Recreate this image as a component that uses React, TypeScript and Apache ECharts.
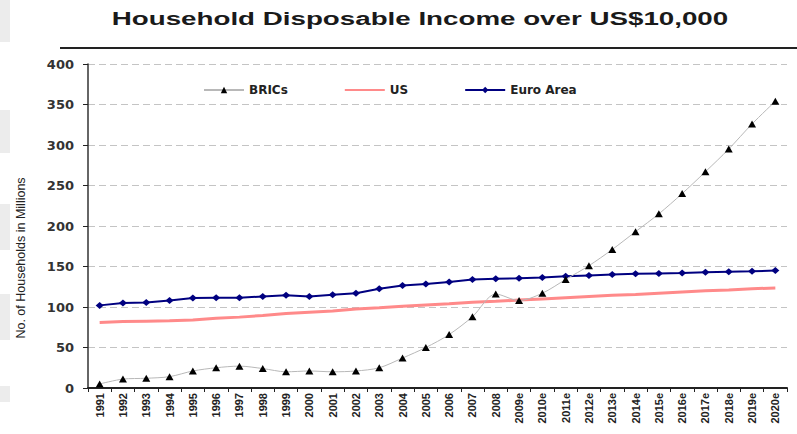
import React, { useEffect, useRef } from "react";
import * as echarts from "echarts";

const TITLE = "Household Disposable Income over US$10,000";
const Y_NAME = "No. of Households in Millions";

const categories = [
  "1991", "1992", "1993", "1994", "1995", "1996", "1997", "1998", "1999", "2000",
  "2001", "2002", "2003", "2004", "2005", "2006", "2007", "2008", "2009e", "2010e",
  "2011e", "2012e", "2013e", "2014e", "2015e", "2016e", "2017e", "2018e", "2019e", "2020e",
];

const bricsValues = [
  5, 11, 12, 14, 21, 25, 27, 24, 20, 21,
  20, 21, 25, 37, 50, 66, 88, 116, 108, 117,
  134, 151, 171, 193, 215, 240, 267, 295, 326, 354,
];

const usValues = [
  81, 82, 82.5, 83, 84, 86, 87.5, 89.5, 92, 93.5,
  95, 97.5, 99, 101, 102.5, 104, 106, 107, 108.5, 110,
  111.5, 113, 114.5, 115.5, 117, 118.5, 120, 121, 122.5, 123.5,
];

const euroValues = [
  102, 105, 105.5, 108, 111, 111.5, 111.5, 113, 114.5, 113,
  115, 117, 122.5, 126.5, 128.5, 131, 134, 135, 135.5, 136.5,
  138, 139, 140, 141, 141.5, 142, 143, 143.5, 144, 145,
];

const seriesNames = ["BRICs", "US", "Euro Area"];

const yMin = 0;
const yMax = 400;
const yInterval = 50;

const sideBands = [
  [0, 42],
  [110, 153],
  [204, 250],
  [294, 340],
  [386, 402],
];

export default function App() {
  const ref = useRef<HTMLDivElement>(null);

  useEffect(() => {
    if (!ref.current) return;
    const chart = echarts.init(ref.current, null, { renderer: "svg" });

    const graphics: any[] = sideBands.map(([y0, y1]) => ({
      type: "rect",
      shape: { x: 0, y: y0, width: 10, height: y1 - y0 },
      style: { fill: "#ececec" },
      silent: true,
    }));
    graphics.push({
      type: "text",
      x: 420,
      y: 18,
      scaleX: 1.46,
      style: {
        text: TITLE,
        font: 'bold 19px "Liberation Sans", Arial, sans-serif',
        fill: "#1a1a1a",
        textAlign: "center",
        textVerticalAlign: "middle",
        verticalAlign: "middle",
      },
    });
    graphics.push({
      type: "line",
      shape: { x1: 60, y1: 48, x2: 797, y2: 48 },
      style: { stroke: "#222", lineWidth: 2 },
    });
    graphics.push({
      type: "text",
      x: 21,
      y: 258,
      rotation: Math.PI / 2,
      style: {
        text: Y_NAME,
        font: '12.5px "Liberation Sans", Arial, sans-serif',
        fill: "#222",
        textAlign: "center",
        textVerticalAlign: "middle",
        verticalAlign: "middle",
      },
    });

    chart.setOption({
      animation: false,
      backgroundColor: "#ffffff",
      grid: { left: 88, right: 10, top: 64, bottom: 46 },
      legend: {
        data: [
          { name: seriesNames[0] },
          { name: seriesNames[1], itemStyle: { opacity: 0 } },
          { name: seriesNames[2] },
        ],
        left: 198,
        top: 79,
        itemWidth: 40,
        itemHeight: 8,
        itemGap: 56,
        textStyle: {
          fontFamily: '"DejaVu Sans", sans-serif',
          fontWeight: "bold",
          fontSize: 12,
          color: "#222",
        },
      },
      xAxis: {
        type: "category",
        data: categories,
        boundaryGap: true,
        axisLine: { show: true, lineStyle: { color: "#222", width: 2 } },
        axisTick: { show: true, interval: 0, length: 4, lineStyle: { color: "#222" } },
        axisLabel: {
          interval: 0,
          rotate: 90,
          margin: 5,
          fontFamily: '"Liberation Sans", Arial, sans-serif',
          fontWeight: "bold",
          fontSize: 11,
          color: "#222",
        },
        splitLine: { show: false },
      },
      yAxis: {
        type: "value",
        min: yMin,
        max: yMax,
        interval: yInterval,
        axisLine: { show: true, lineStyle: { color: "#333", width: 1.5 } },
        axisTick: { show: true, length: 5, lineStyle: { color: "#222" } },
        axisLabel: {
          margin: 14,
          fontFamily: '"DejaVu Sans", sans-serif',
          fontWeight: "bold",
          fontSize: 13,
          color: "#333",
        },
        splitLine: {
          show: true,
          lineStyle: { color: "#c4c4c4", type: [7, 4], width: 1 },
        },
      },
      series: [
        {
          name: seriesNames[0],
          type: "line",
          data: bricsValues,
          smooth: 0.3,
          symbol: "triangle",
          symbolSize: [8, 7],
          itemStyle: { color: "#000000" },
          lineStyle: { color: "#b8b8b8", width: 1 },
          z: 4,
        },
        {
          name: seriesNames[1],
          type: "line",
          data: usValues,
          showSymbol: false,
          symbol: "none",
          itemStyle: { color: "#ff8a8a" },
          lineStyle: { color: "#ff8a8a", width: 3 },
          z: 2,
        },
        {
          name: seriesNames[2],
          type: "line",
          data: euroValues,
          symbol: "diamond",
          symbolSize: [8, 7],
          itemStyle: { color: "#000080" },
          lineStyle: { color: "#000080", width: 2 },
          z: 3,
        },
      ],
      graphic: graphics,
    });

    return () => {
      chart.dispose();
    };
  }, []);

  return (
    <div
      ref={ref}
      style={{ position: "absolute", left: 0, top: 0, width: 797, height: 434 }}
    />
  );
}
